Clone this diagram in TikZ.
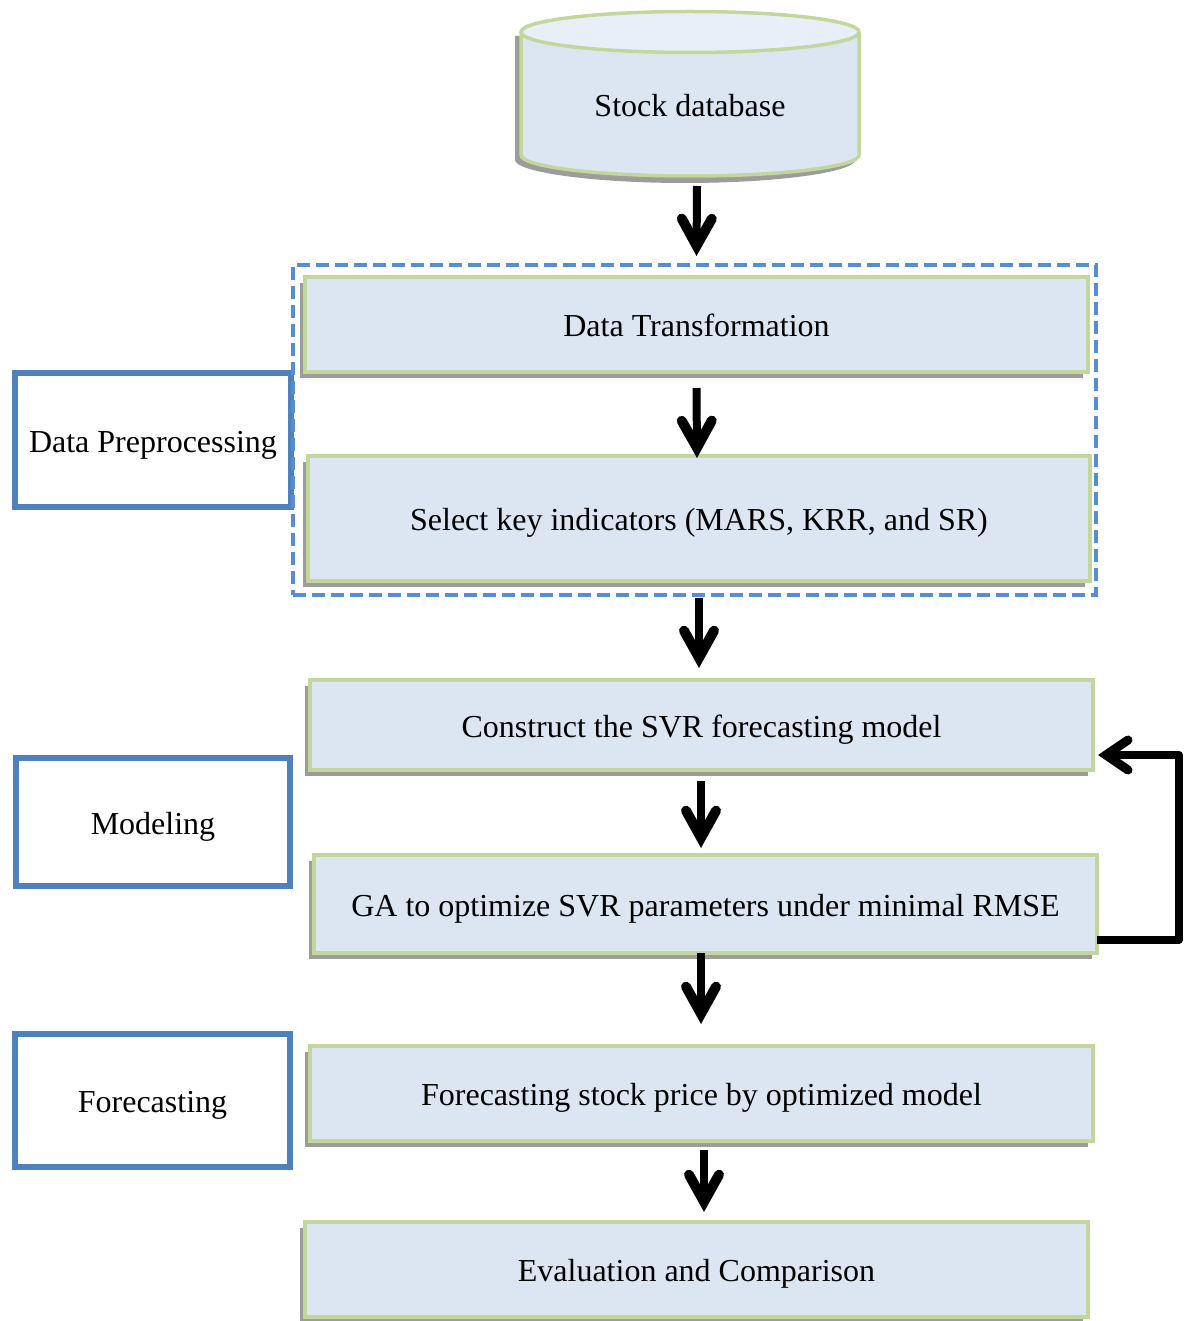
\documentclass[tikz,border=0pt]{standalone}
\usepackage{fontspec}
\setmainfont{Liberation Serif}
\usetikzlibrary{arrows.meta,shadows,shapes.geometric}
\definecolor{boxfill}{HTML}{DCE6F2}
\definecolor{topfill}{HTML}{E8EFF8}
\definecolor{boxline}{HTML}{C3D69B}
\definecolor{shadowgray}{HTML}{9C9C9C}
\definecolor{labelblue}{HTML}{4F81BD}
\definecolor{dashblue}{HTML}{558ED5}
\tikzset{
  bodytext/.style={font=\fontsize{32}{36}\selectfont,text height=30pt,text depth=6pt},
  stepbox/.style={bodytext,draw=boxline,line width=3.5pt,fill=boxfill,outer sep=0pt,inner sep=0pt,anchor=north west,
    general shadow={fill=shadowgray,shadow xshift=-5.5pt,shadow yshift=-6pt}},
  labelbox/.style={bodytext,draw=labelblue,line width=6pt,fill=white,outer sep=0pt,inner sep=0pt,anchor=north west},
  flow/.style={line width=8pt,draw=black,-{Straight Barb[length=27pt,width=30pt,line width=10pt,line cap=round,line join=miter]}},
  loopflow/.style={line width=8pt,draw=black,line join=round,-{Straight Barb[length=22pt,width=30pt,line width=9pt,line cap=round,line join=miter]}}
}
\begin{document}
\begin{tikzpicture}[x=1pt,y=-1pt]
\useasboundingbox (0,0) rectangle (1187,1321);
% cylinder
\fill[shadowgray] (515,36) -- (515,160) .. controls (515,172) and (592,183) .. (685,183) .. controls (778,183) and (855,172) .. (855,160) -- (855,100) -- (540,36) -- cycle;
\path[fill=boxfill,draw=boxline,line width=3.5pt] (521,32) -- (521,155) .. controls (521,166.6) and (597,176) .. (690,176) .. controls (783,176) and (859,166.6) .. (859,155) -- (859,32);
\path[fill=topfill,draw=boxline,line width=3.5pt] (690,32) ellipse [x radius=169,y radius=20.5];
\node[bodytext,minimum width=338pt,minimum height=146pt,inner sep=0pt,outer sep=0pt] (db) at (690,105) {Stock database};
% step boxes
\node[stepbox,minimum width=783pt,minimum height=95pt] (dt) at (305,277) {Data Transformation};
\node[stepbox,minimum width=782pt,minimum height=125pt] (key) at (308,456) {Select key indicators (MARS, KRR, and SR)};
\node[stepbox,minimum width=783pt,minimum height=90pt] (svr) at (310,680) {Construct the SVR forecasting model};
\node[stepbox,minimum width=783pt,minimum height=98pt] (ga) at (314,855) {GA to optimize SVR parameters under minimal RMSE};
\node[stepbox,minimum width=783pt,minimum height=95pt] (fc) at (310,1046) {Forecasting stock price by optimized model};
\node[stepbox,minimum width=783pt,minimum height=95pt] (ev) at (305,1222) {Evaluation and Comparison};
% labels
\node[labelbox,minimum width=276pt,minimum height=134pt] (lp) at (15,373) {Data Preprocessing};
\node[labelbox,minimum width=274pt,minimum height=128pt] (lm) at (16,758) {Modeling};
\node[labelbox,minimum width=275pt,minimum height=133pt] (lf) at (15,1034) {Forecasting};
% dashed group
\node[draw=dashblue,line width=3.5pt,dash pattern=on 13pt off 6pt,minimum width=803pt,minimum height=330pt,anchor=north west,inner sep=0pt,outer sep=0pt] (grp) at (293,265) {};
% connectors
\draw[flow] ([xshift=7pt,yshift=-8pt]db.south) -- ([yshift=21pt]dt.north);
\draw[flow] ([yshift=-16pt]dt.south) -- ([xshift=-2pt,yshift=-2pt]key.north);
\draw[flow] ([xshift=4.5pt,yshift=-3pt]grp.south) -- ([xshift=-2.5pt,yshift=12pt]svr.north);
\draw[flow] ([xshift=-.5pt,yshift=-11pt]svr.south) -- ([xshift=-4.5pt,yshift=7pt]ga.north);
\draw[flow] ([xshift=-4.5pt]ga.south) -- ([xshift=-.5pt,yshift=22pt]fc.north);
\draw[flow] ([xshift=2.5pt,yshift=-9pt]fc.south) -- ([xshift=7.5pt,yshift=10pt]ev.north);
\draw[loopflow] ([yshift=-36pt]ga.east) -- ++(82pt,0) |- ([xshift=5pt,yshift=-30pt]svr.east);
\end{tikzpicture}
\end{document}
